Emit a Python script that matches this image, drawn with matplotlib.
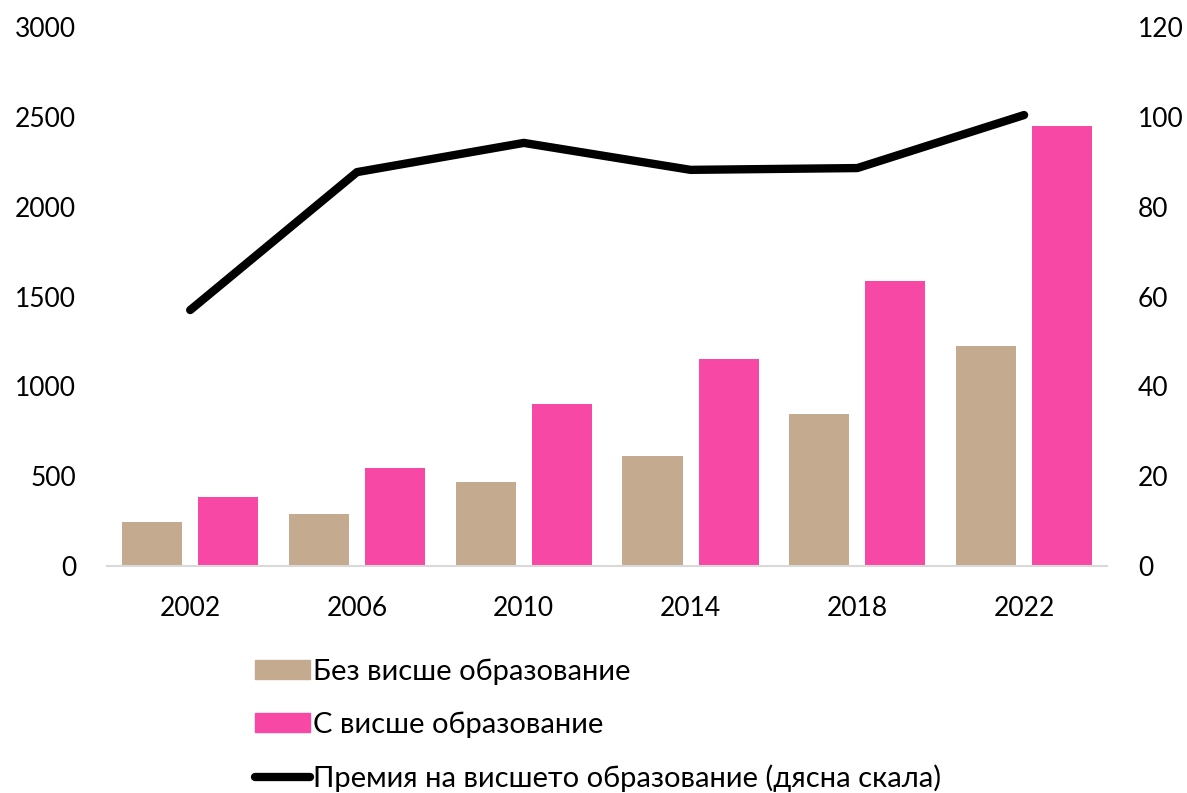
import matplotlib
matplotlib.use("Agg")
import matplotlib.pyplot as plt
import numpy as np
from matplotlib.patches import Patch
from matplotlib.lines import Line2D

plt.rcParams['font.family'] = ['Lato', 'Noto Sans', 'DejaVu Sans']

years = ['2002', '2006', '2010', '2014', '2018', '2022']
no_higher = [245, 289, 467, 612, 846, 1224]
higher = [384, 545, 901, 1152, 1586, 2448]
premium = [57.0, 87.7, 94.2, 88.2, 88.6, 100.4]

labels = ['Без висше образование', 'С висше образование',
          'Премия на висшето образование (дясна скала)']
c_beige = '#C4AB8F'
c_pink = '#F748A6'

fig = plt.figure(figsize=(11.87, 7.93), dpi=100)
ax = fig.add_axes([0.090, 0.286, 0.843, 0.680])
x = np.arange(len(years))
w = 0.36
off = 0.228
ax.bar(x - off, no_higher, w, color=c_beige, zorder=2)
ax.bar(x + off, higher, w, color=c_pink, zorder=2)
ax.set_xlim(-0.5, len(years) - 0.5)
ax.set_ylim(0, 3000)
ax.set_yticks(np.arange(0, 3001, 500))
ax.set_xticks(x)
ax.set_xticklabels(years)
for s in ['top', 'left', 'right']:
    ax.spines[s].set_visible(False)
ax.spines['bottom'].set_color('#D9D9D9')
ax.spines['bottom'].set_linewidth(1.5)
ax.tick_params(axis='both', length=0, labelsize=19)
ax.tick_params(axis='y', pad=22)
ax.tick_params(axis='x', pad=21.5)

ax2 = ax.twinx()
ax2.plot(x, premium, color='black', lw=6, solid_capstyle='round',
         solid_joinstyle='round', zorder=3)
ax2.set_ylim(0, 120)
ax2.set_yticks(np.arange(0, 121, 20))
for s in ['top', 'left', 'right', 'bottom']:
    ax2.spines[s].set_visible(False)
ax2.tick_params(axis='y', length=0, labelsize=19, pad=22)

handles = [Patch(color=c_beige), Patch(color=c_pink),
           Line2D([0], [0], color='black', lw=6, solid_capstyle='round')]
fig.legend(handles, labels, loc='upper left', bbox_to_anchor=(0.2148, 0.170),
           frameon=False, fontsize=21, handlelength=1.9, handleheight=0.62,
           handletextpad=0.1, labelspacing=0.92, borderaxespad=0, borderpad=0)

fig.savefig('out.png', dpi=100)
